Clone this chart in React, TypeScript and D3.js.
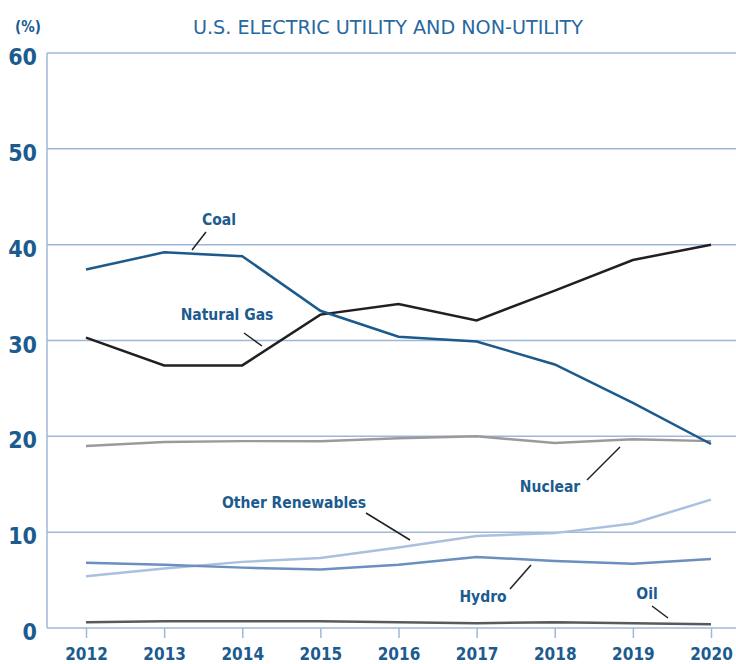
import { useRef, useEffect } from "react";
import * as d3 from "d3";

const years = [2012, 2013, 2014, 2015, 2016, 2017, 2018, 2019, 2020];
const coal = [37.4, 39.2, 38.8, 33.1, 30.4, 29.9, 27.5, 23.5, 19.2];
const naturalGas = [30.3, 27.4, 27.4, 32.7, 33.8, 32.1, 35.2, 38.4, 40.0];
const nuclear = [19.0, 19.4, 19.5, 19.5, 19.8, 20.0, 19.3, 19.7, 19.5];
const otherRenewables = [5.4, 6.2, 6.9, 7.3, 8.4, 9.6, 9.9, 10.9, 13.4];
const hydro = [6.8, 6.6, 6.3, 6.1, 6.6, 7.4, 7.0, 6.7, 7.2];
const oil = [0.6, 0.7, 0.7, 0.7, 0.6, 0.5, 0.6, 0.5, 0.4];
const yTicks = [0, 10, 20, 30, 40, 50, 60];

const series = [
  { name: "Nuclear", values: nuclear, color: "#9a9a9c" },
  { name: "Other Renewables", values: otherRenewables, color: "#a9c0de" },
  { name: "Hydro", values: hydro, color: "#6b8fbe" },
  { name: "Oil", values: oil, color: "#5a5a5c" },
  { name: "Natural Gas", values: naturalGas, color: "#231f20" },
  { name: "Coal", values: coal, color: "#1b5a8c" },
];

// label position + leader line [x1,y1,x2,y2]
const labels = [
  { text: "Coal", x: 219, y: 219, line: [206, 232, 192, 250] },
  { text: "Natural Gas", x: 227, y: 314, line: [244, 333, 262, 346] },
  { text: "Nuclear", x: 550, y: 486, line: [587, 480, 620, 447] },
  { text: "Other Renewables", x: 294, y: 502, line: [366, 513, 410, 540] },
  { text: "Hydro", x: 483, y: 596, line: [510, 589, 531, 565] },
  { text: "Oil", x: 647, y: 593, line: [652, 606, 668, 618] },
];

const textBlue = "#1c5b8f";
const gridBlue = "#9fb8d8";
const narrow = "'Liberation Sans Narrow', 'DejaVu Sans Condensed', Roboto, sans-serif";

export default function App() {
  const svgRef = useRef<SVGSVGElement>(null);

  useEffect(() => {
    const w = 736;
    const h = 664;
    const svg = d3.select(svgRef.current).attr("width", w).attr("height", h);
    svg.selectAll("*").remove();

    const x = d3.scaleLinear().domain([2012, 2020]).range([86, 711]);
    const y = d3.scaleLinear().domain([0, 60]).range([628, 53]);
    const left = 47;

    // title
    svg.append("text")
      .attr("x", 388).attr("y", 34)
      .attr("text-anchor", "middle")
      .attr("fill", "#2768a0")
      .attr("textLength", 390)
      .attr("lengthAdjust", "spacingAndGlyphs")
      .style("font-family", narrow)
      .style("font-size", "20px")
      .text("U.S. ELECTRIC UTILITY AND NON-UTILITY");

    svg.append("text")
      .attr("x", 28).attr("y", 32)
      .attr("text-anchor", "middle")
      .attr("fill", textBlue)
      .style("font-family", narrow)
      .style("font-weight", "bold")
      .style("font-size", "15px")
      .text("(%)");

    // gridlines
    svg.append("g").selectAll("line")
      .data(yTicks)
      .join("line")
      .attr("x1", left).attr("x2", w)
      .attr("y1", (d) => y(d)).attr("y2", (d) => y(d))
      .attr("stroke", gridBlue)
      .attr("stroke-width", 1.5);

    svg.append("line")
      .attr("x1", left).attr("x2", left)
      .attr("y1", y(60)).attr("y2", y(0))
      .attr("stroke", gridBlue)
      .attr("stroke-width", 1.5);

    // y labels
    svg.append("g").selectAll("text")
      .data(yTicks)
      .join("text")
      .attr("x", 37).attr("y", (d) => y(d) + 12)
      .attr("text-anchor", "end")
      .attr("fill", textBlue)
      .style("font-family", narrow)
      .style("font-weight", "bold")
      .style("font-size", "23px")
      .text((d) => d);

    // x axis
    const xAxis = d3.axisBottom(x)
      .tickValues(years)
      .tickFormat(d3.format("d"))
      .tickSize(10)
      .tickPadding(10)
      .tickSizeOuter(0);
    const gx = svg.append("g")
      .attr("transform", `translate(0, ${y(0)})`)
      .call(xAxis);
    gx.select(".domain").remove();
    gx.selectAll(".tick line").attr("stroke", gridBlue).attr("stroke-width", 1.5);
    gx.selectAll(".tick text")
      .attr("fill", textBlue)
      .style("font-family", narrow)
      .style("font-weight", "bold")
      .style("font-size", "17px");

    // lines
    const line = d3.line<number>()
      .x((_, i) => x(years[i]))
      .y((d) => y(d));

    svg.append("g").selectAll("path")
      .data(series)
      .join("path")
      .attr("fill", "none")
      .attr("stroke", (d) => d.color)
      .attr("stroke-width", 2.5)
      .attr("d", (d) => line(d.values));

    // labels
    const lg = svg.append("g");
    labels.forEach((l) => {
      lg.append("line")
        .attr("x1", l.line[0]).attr("y1", l.line[1])
        .attr("x2", l.line[2]).attr("y2", l.line[3])
        .attr("stroke", "#231f20")
        .attr("stroke-width", 1.5);
      lg.append("text")
        .attr("x", l.x).attr("y", l.y + 6)
        .attr("text-anchor", "middle")
        .attr("fill", textBlue)
        .style("font-family", narrow)
        .style("font-weight", "bold")
        .style("font-size", "15.5px")
        .text(l.text);
    });
  }, []);

  return (
    <div>
      <svg ref={svgRef} style={{ display: "block", position: "absolute", left: 0, top: 0 }}></svg>
    </div>
  );
}
